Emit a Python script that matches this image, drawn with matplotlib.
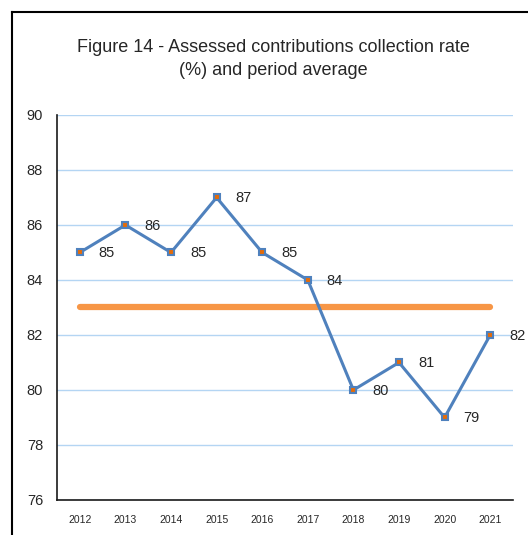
import matplotlib
matplotlib.use('Agg')
import matplotlib.pyplot as plt
from matplotlib.lines import Line2D

years = [2012, 2013, 2014, 2015, 2016, 2017, 2018, 2019, 2020, 2021]
rate = [85, 86, 85, 87, 85, 84, 80, 81, 79, 82]
average = [83] * len(years)

plt.rcParams['font.family'] = ['Liberation Sans', 'DejaVu Sans']

W, H = 528, 535
fig = plt.figure(figsize=(W / 100, H / 100), dpi=100)
fig.patch.set_facecolor("white")
ax = fig.add_axes([57 / W, 1 - 500 / H, (513 - 57) / W, (500 - 115) / H])

ax.plot(years, average, color="#F79646", linewidth=4.5, solid_capstyle="round", zorder=2)
ax.plot(years, rate, color="#4F81BD", linewidth=2.2, marker="s", markersize=5,
        markerfacecolor="#E46C0A", markeredgecolor="#4F81BD", markeredgewidth=1.5, zorder=3)

for x, v in zip(years, rate):
    ax.annotate(str(v), (x, v), xytext=(19, -1), textcoords="offset pixels",
                ha="left", va="center", fontsize=10.5, color="#262626")

ax.set_xlim(2011.5, 2021.5)
ax.set_ylim(76, 90)
ax.set_yticks(range(76, 91, 2))
ax.set_xticks(years)
ax.set_xticklabels([str(y) for y in years], fontsize=7.5, color="#262626")
ax.tick_params(axis="y", labelsize=10.5, labelcolor="#262626", length=0, pad=10)
ax.tick_params(axis="x", length=0, pad=11)
ax.grid(axis="y", color="#B4D5F3", linewidth=1)
ax.set_axisbelow(True)
for s in ["top", "right"]:
    ax.spines[s].set_visible(False)
ax.spines["left"].set_linewidth(1.2)
ax.spines["bottom"].set_linewidth(1.2)
ax.spines["left"].set_color("#1a1a1a")
ax.spines["bottom"].set_color("#1a1a1a")

fig.text(273 / W, 1 - 59 / H,
         "Figure 14 - Assessed contributions collection rate\n(%) and period average",
         ha="center", va="center", fontsize=13, color="#262626", linespacing=1.45)

# outer frame (left and top edges visible)
fig.add_artist(Line2D([12 / W, 12 / W], [0, 1 - 12 / H], transform=fig.transFigure,
                      color="black", linewidth=1.5))
fig.add_artist(Line2D([12 / W, 1], [1 - 12 / H, 1 - 12 / H], transform=fig.transFigure,
                      color="black", linewidth=1.5))

fig.savefig("out.png", dpi=100, facecolor="white")
